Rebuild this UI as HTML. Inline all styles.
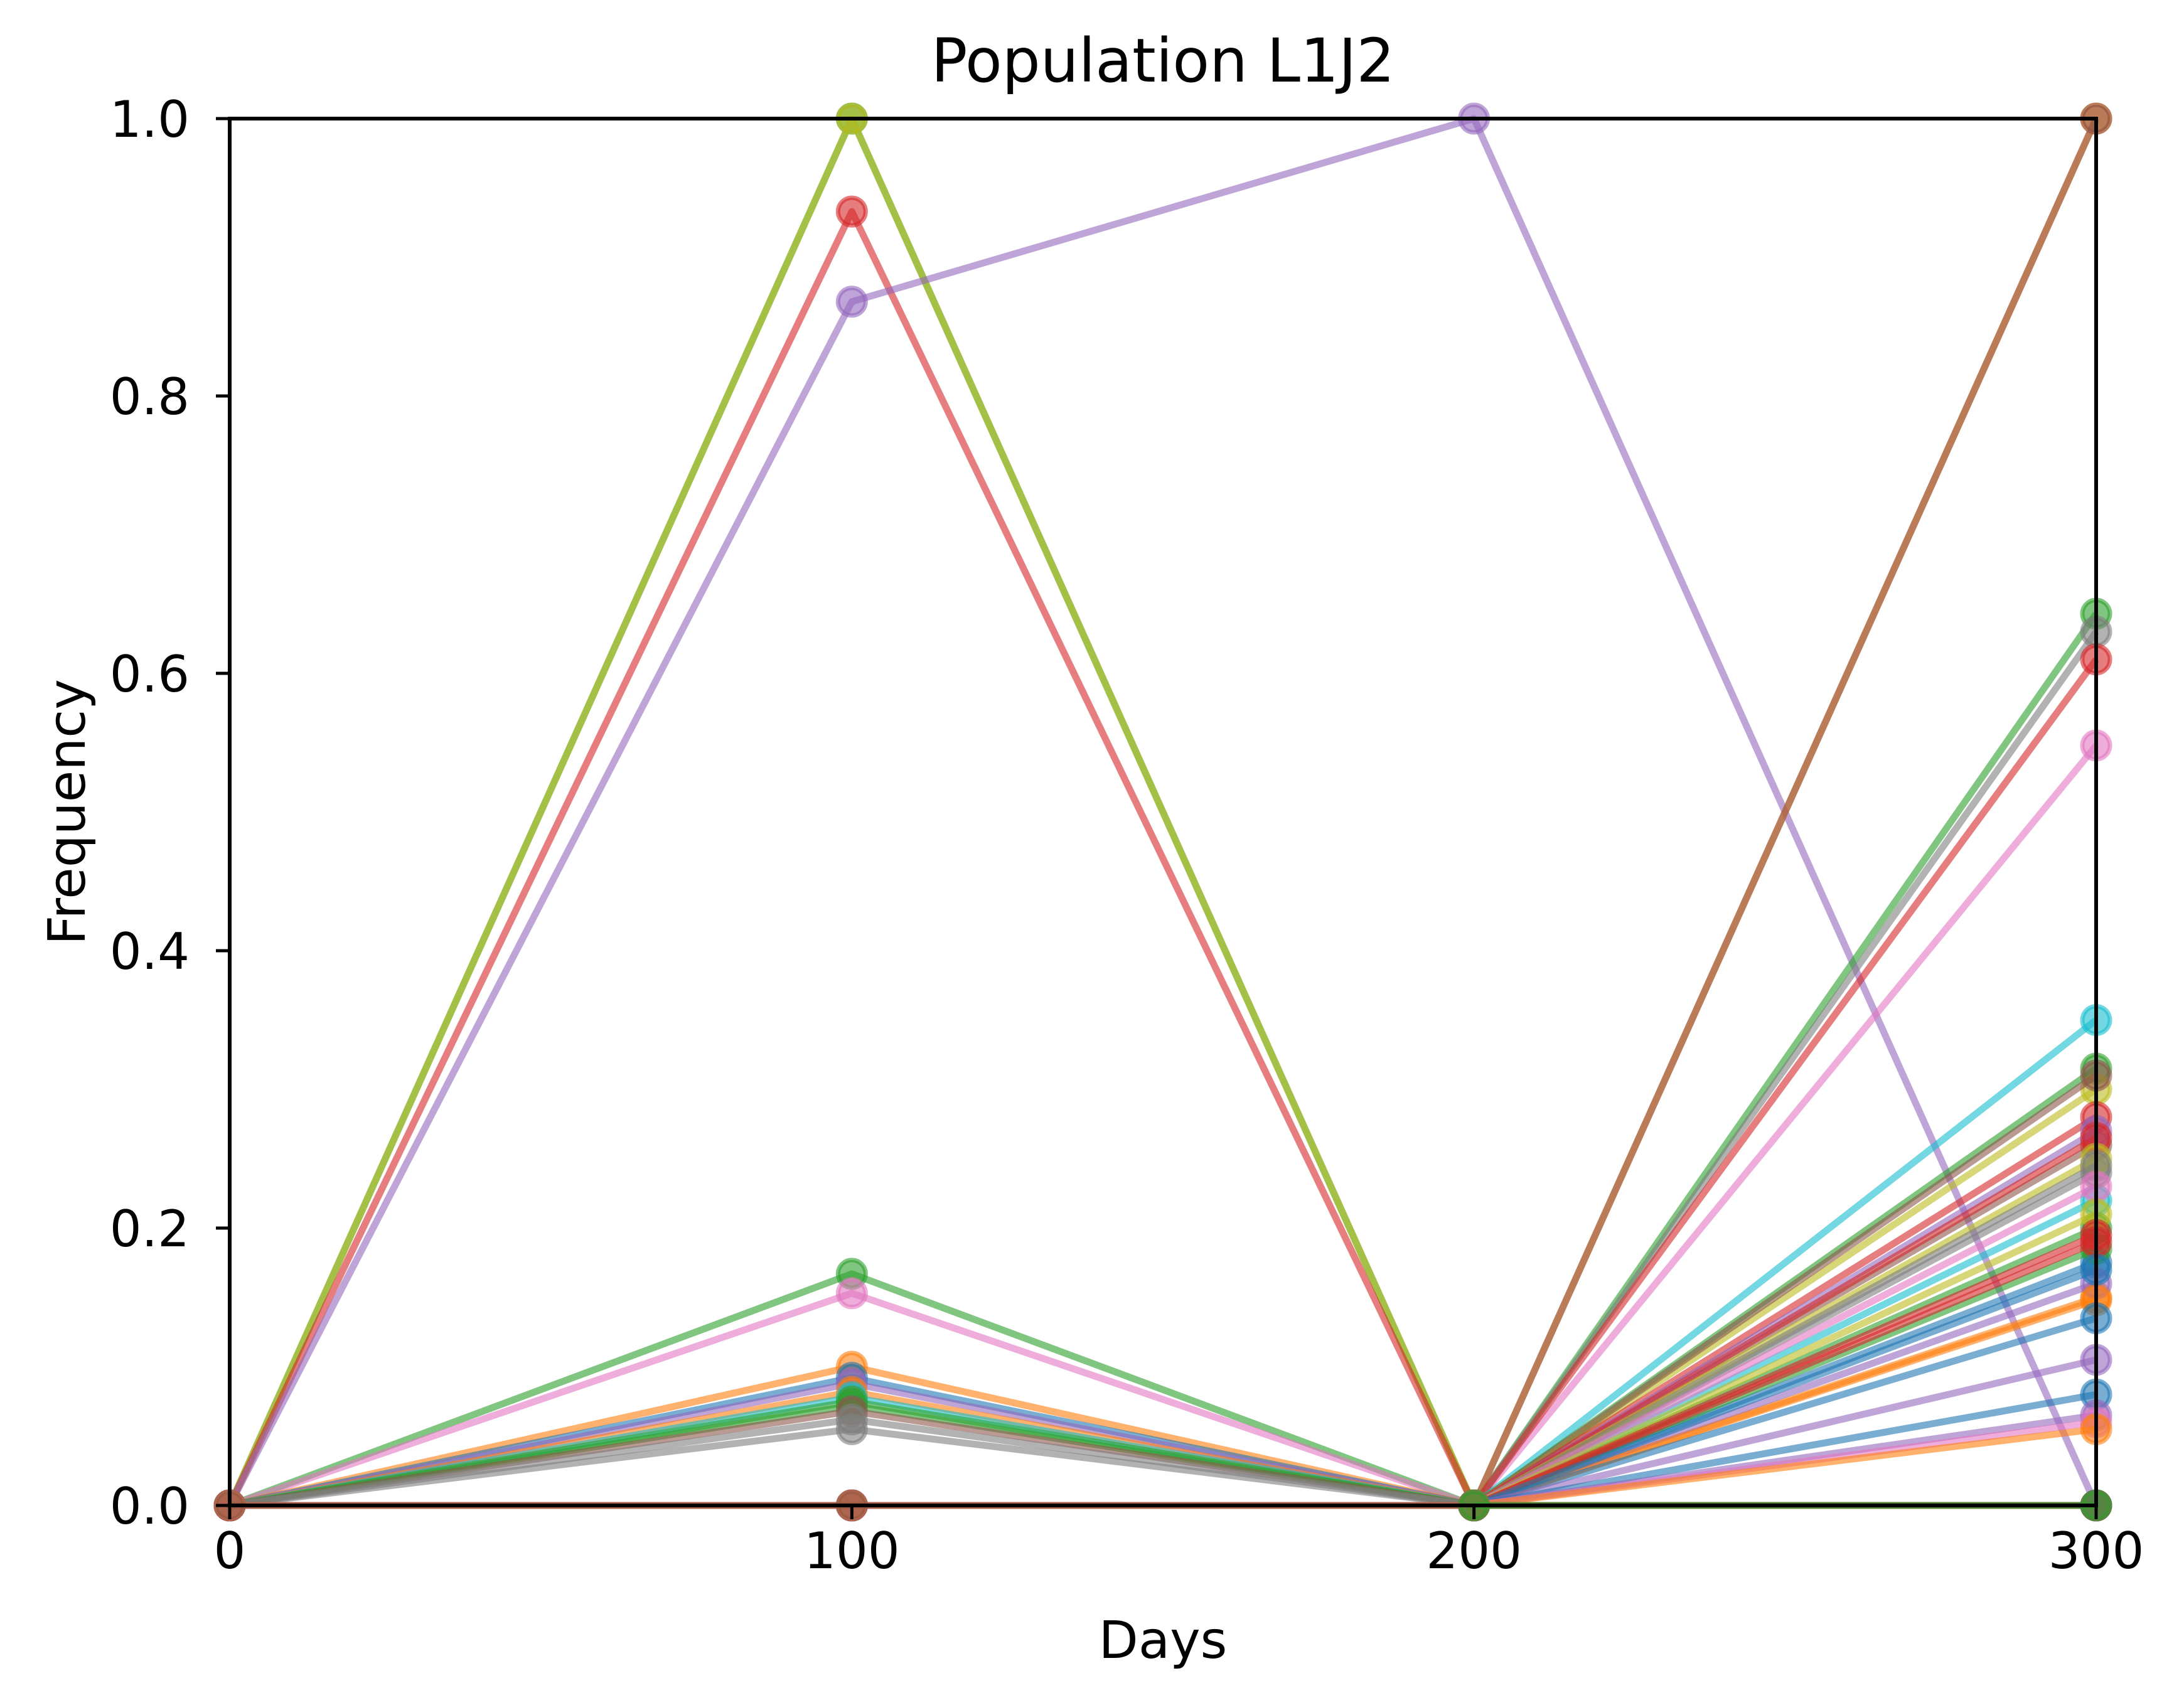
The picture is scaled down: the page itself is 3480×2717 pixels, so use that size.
<!DOCTYPE html>
<html><head><meta charset="utf-8"><style>
html,body{margin:0;padding:0;background:#fff;}
svg{display:block;font-family:"DejaVu Sans","Liberation Sans",sans-serif;}
</style></head><body>
<svg id="chart" width="3480" height="2717" viewBox="0 0 3480 2717" xmlns="http://www.w3.org/2000/svg">
<rect width="3480" height="2717" fill="#fff"/>
<g id="plot"></g>
<g id="axes"></g>
<text x="1853" y="130" font-size="96" text-anchor="middle">Population L1J2</text>
<text x="1853" y="2642" font-size="82" text-anchor="middle">Days</text>
<text x="0" y="0" font-size="82" text-anchor="middle" transform="translate(135,1294) rotate(-90)">Frequency</text>
</svg>
<script>
const days = [0, 100, 200, 300];
const xTicks = [0, 100, 200, 300];
const yTicks = [0.0, 0.2, 0.4, 0.6, 0.8, 1.0];
const seriesColors = ["green","olive","red","purple","green","pink","orange","blue","purple","orange","cyan","green","green","brown","gray","gray","orange","brown","red","cyan","green","olive","brown","red","purple","red","olive","gray","pink","olive","red","red","blue","blue","purple","blue","purple","pink","orange","brown","green"];
const seriesValues = [
 [0,1,0,0],[0,1,0,0],[0,0.933,0,0],[0,0.868,1,0],[0,0.167,0,0.643],[0,0.153,0,0.548],
 [0,0.1,0,0.15],[0,0.092,0,0.175],[0,0.088,0,0.16],[0,0.082,0,0.148],[0,0.078,0,0.22],
 [0,0.075,0,0.185],[0,0.072,0,0.2],[0,0.068,0,0.26],[0,0.055,0,0.63],[0,0.062,0,0.24],
 [0,0,0,1],[0,0,0,1],[0,0,0,0.61],[0,0,0,0.35],[0,0,0,0.315],[0,0,0,0.3],[0,0,0,0.31],
 [0,0,0,0.28],[0,0,0,0.27],[0,0,0,0.265],[0,0,0,0.25],[0,0,0,0.245],[0,0,0,0.23],
 [0,0,0,0.21],[0,0,0,0.195],[0,0,0,0.19],[0,0,0,0.17],[0,0,0,0.135],[0,0,0,0.105],
 [0,0,0,0.08],[0,0,0,0.065],[0,0,0,0.06],[0,0,0,0.055],[0,0,0,0],[null,null,0,0]
];
const palette = {blue:"#1f77b4",orange:"#ff7f0e",green:"#2ca02c",red:"#d62728",purple:"#9467bd",brown:"#8c564b",pink:"#e377c2",gray:"#7f7f7f",olive:"#bcbd22",cyan:"#17becf"};
const L=366,R=3340,T=189,B=2399;
const xs = v => L + (v-0)/(300-0)*(R-L);
const ys = v => B - (v-0)/(1-0)*(B-T);
const NS="http://www.w3.org/2000/svg";
const plot=document.getElementById('plot');
seriesValues.forEach((vals,i)=>{
  const c=palette[seriesColors[i]];
  const g=document.createElementNS(NS,'g');
  
  
  const pts=[];
  vals.forEach((v,j)=>{ if(v!==null) pts.push(xs(days[j])+','+ys(v)); });
  const pl=document.createElementNS(NS,'polyline');
  
  
  pl.setAttribute('points',pts.join(' '));
  pl.setAttribute('fill','none');pl.setAttribute('stroke',c);pl.setAttribute('stroke-width','11');
  pl.setAttribute('stroke-opacity','0.6');pl.setAttribute('stroke-linejoin','round');
  g.appendChild(pl);
  vals.forEach((v,j)=>{
    if(v===null) return;
    const ci=document.createElementNS(NS,'circle');
    
    
    ci.setAttribute('cx',xs(days[j]));ci.setAttribute('cy',ys(v));ci.setAttribute('r','22');
    ci.setAttribute('fill',c);ci.setAttribute('fill-opacity','0.6');
    ci.setAttribute('stroke',c);ci.setAttribute('stroke-opacity','0.6');ci.setAttribute('stroke-width','7');
    g.appendChild(ci);
  });
  plot.appendChild(g);
});
const ax=document.getElementById('axes');
const fr=document.createElementNS(NS,'rect');


fr.setAttribute('x',L);fr.setAttribute('y',T);fr.setAttribute('width',R-L);fr.setAttribute('height',B-T);
fr.setAttribute('fill','none');fr.setAttribute('stroke','#000');fr.setAttribute('stroke-width','6');
ax.appendChild(fr);
xTicks.forEach(t=>{
  const ln=document.createElementNS(NS,'line');
  
  
  ln.setAttribute('x1',xs(t));ln.setAttribute('x2',xs(t));ln.setAttribute('y1',B);ln.setAttribute('y2',B+22);
  ln.setAttribute('stroke','#000');ln.setAttribute('stroke-width','5');ax.appendChild(ln);
  const tx=document.createElementNS(NS,'text');
  
  
  tx.setAttribute('x',xs(t));tx.setAttribute('y',B+100);tx.setAttribute('font-size','80');
  tx.setAttribute('text-anchor','middle');tx.textContent=String(t);ax.appendChild(tx);
});
yTicks.forEach(t=>{
  const ln=document.createElementNS(NS,'line');
  
  
  ln.setAttribute('x1',L-22);ln.setAttribute('x2',L);ln.setAttribute('y1',ys(t));ln.setAttribute('y2',ys(t));
  ln.setAttribute('stroke','#000');ln.setAttribute('stroke-width','5');ax.appendChild(ln);
  const tx=document.createElementNS(NS,'text');
  
  
  tx.setAttribute('x',L-64);tx.setAttribute('y',ys(t)+29);tx.setAttribute('font-size','80');
  tx.setAttribute('text-anchor','end');tx.textContent=t.toFixed(1);ax.appendChild(tx);
});
</script>
</body></html>
